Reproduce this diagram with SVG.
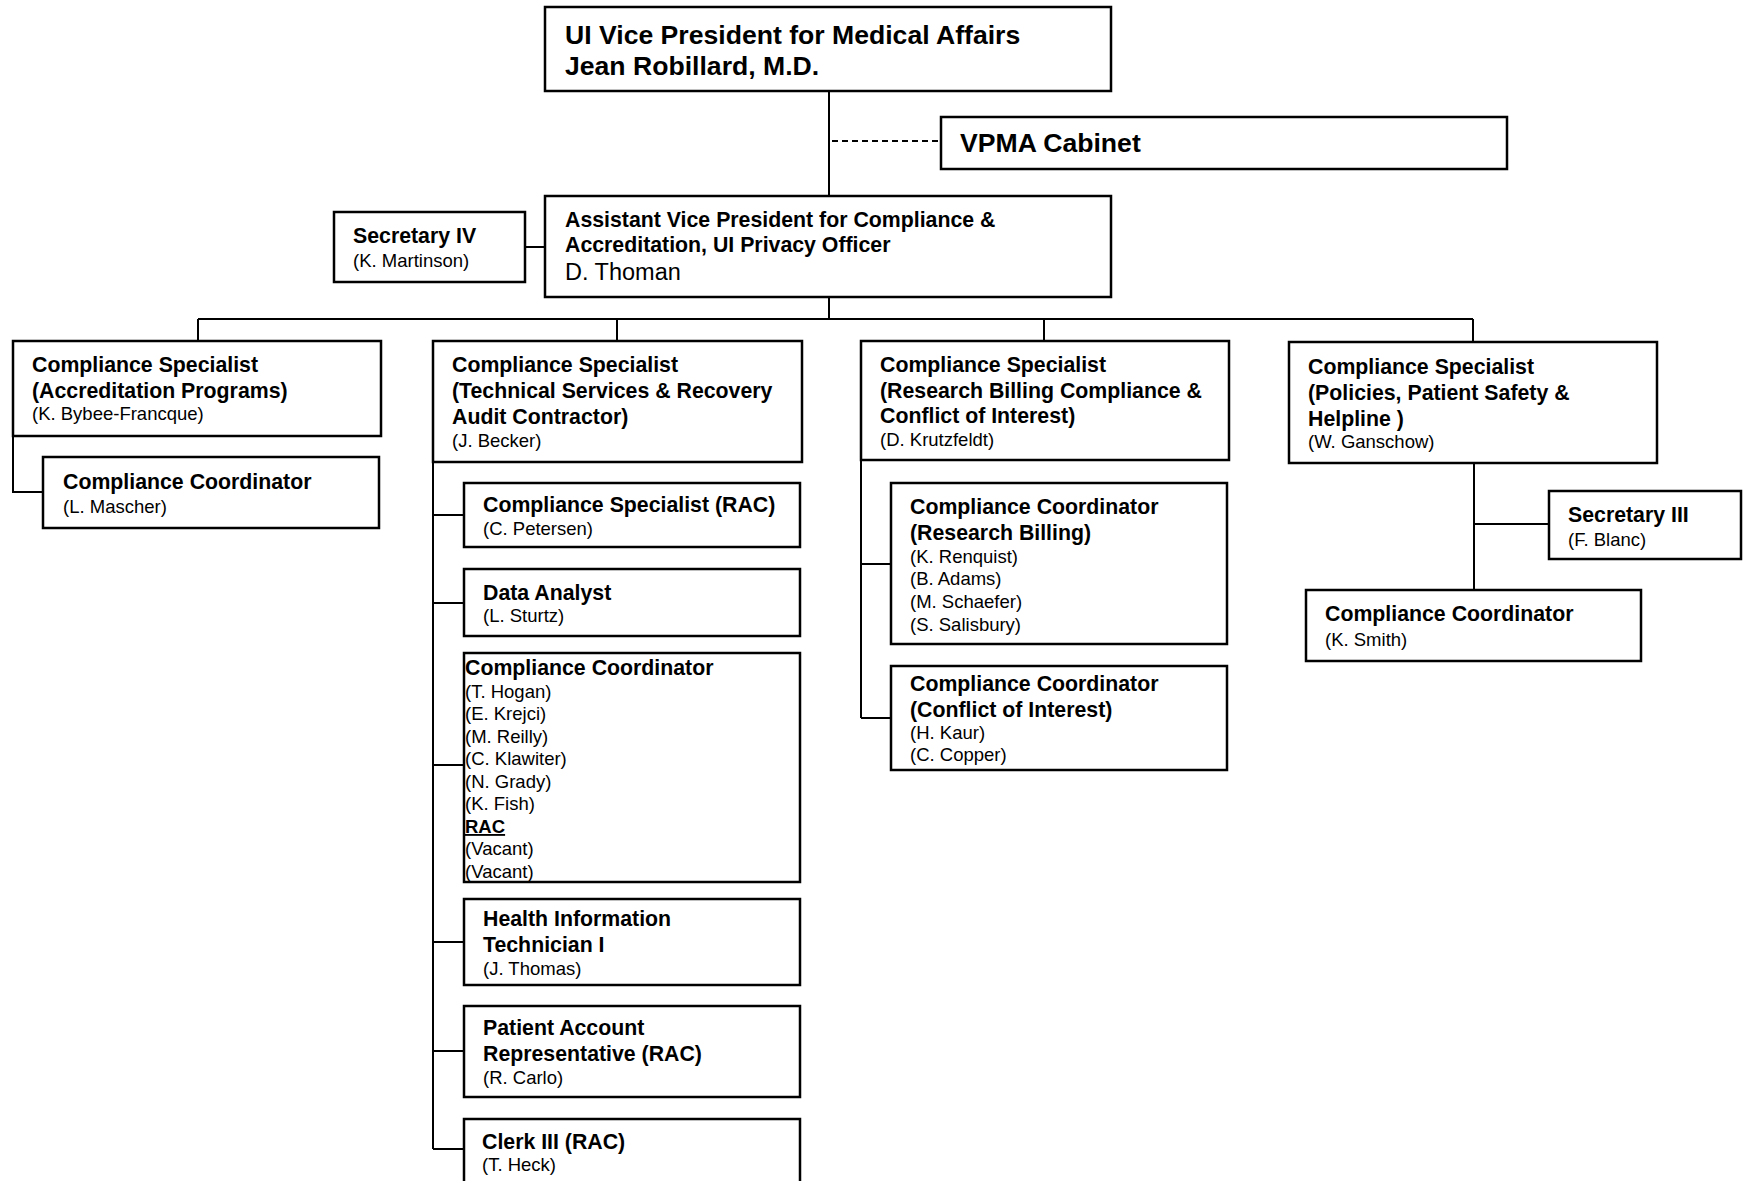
<svg xmlns="http://www.w3.org/2000/svg" width="1744" height="1181" viewBox="0 0 1744 1181">
<style>
text{font-family:"Liberation Sans",Arial,sans-serif;fill:#000}
.box{fill:#fff;stroke:#000;stroke-width:2.5}
.t{font-weight:bold;font-size:21.3px}
.n{font-size:18.5px}
.big{font-weight:bold;font-size:26.6px}
.ln{stroke:#000;stroke-width:2;fill:none}
</style>
<rect width="1744" height="1181" fill="#fff"/>
<g id="connectors">
<line class="ln" x1="829" y1="91" x2="829" y2="196"/>
<line class="ln" x1="832" y1="141" x2="940" y2="141" stroke-dasharray="6,4"/>
<line class="ln" x1="525" y1="247" x2="545" y2="247"/>
<line class="ln" x1="829" y1="297" x2="829" y2="319"/>
<line class="ln" x1="198" y1="319" x2="1473" y2="319"/>
<line class="ln" x1="198" y1="319" x2="198" y2="340"/>
<line class="ln" x1="617" y1="319" x2="617" y2="340"/>
<line class="ln" x1="1044" y1="319" x2="1044" y2="340"/>
<line class="ln" x1="1473" y1="319" x2="1473" y2="341"/>
<polyline class="ln" points="13,435 13,492 43,492"/>
<line class="ln" x1="433" y1="462" x2="433" y2="1149"/>
<line class="ln" x1="433" y1="515" x2="464" y2="515"/>
<line class="ln" x1="433" y1="603" x2="464" y2="603"/>
<line class="ln" x1="433" y1="765" x2="464" y2="765"/>
<line class="ln" x1="433" y1="942" x2="464" y2="942"/>
<line class="ln" x1="433" y1="1051" x2="464" y2="1051"/>
<line class="ln" x1="433" y1="1149" x2="464" y2="1149"/>
<line class="ln" x1="861" y1="460" x2="861" y2="718"/>
<line class="ln" x1="861" y1="564" x2="891" y2="564"/>
<line class="ln" x1="861" y1="718" x2="891" y2="718"/>
<line class="ln" x1="1474" y1="463" x2="1474" y2="589"/>
<line class="ln" x1="1474" y1="524" x2="1549" y2="524"/>
</g>
<g id="vpma">
<rect class="box" x="545" y="7" width="566" height="84"/>
<text class="big" x="565" y="44">UI Vice President for Medical Affairs</text>
<text class="big" x="565" y="75">Jean Robillard, M.D.</text>
</g>
<g id="cabinet">
<rect class="box" x="941" y="117" width="566" height="52"/>
<text class="big" x="960" y="152">VPMA Cabinet</text>
</g>
<g id="avp">
<rect class="box" x="545" y="196" width="566" height="101"/>
<text class="t" x="565" y="227">Assistant Vice President for Compliance &amp;</text>
<text class="t" x="565" y="252">Accreditation, UI Privacy Officer</text>
<text x="565" y="280" font-size="23.5px">D. Thoman</text>
</g>
<g id="sec4">
<rect class="box" x="334" y="212" width="191" height="70"/>
<text class="t" x="353" y="243">Secretary IV</text>
<text class="n" x="353" y="267">(K. Martinson)</text>
</g>
<g id="cs-accred">
<rect class="box" x="13" y="341" width="368" height="95"/>
<text class="t" x="32" y="372">Compliance Specialist</text>
<text class="t" x="32" y="398">(Accreditation Programs)</text>
<text class="n" x="32" y="420">(K. Bybee-Francque)</text>
</g>
<g id="cc-mascher">
<rect class="box" x="43" y="457" width="336" height="71"/>
<text class="t" x="63" y="489">Compliance Coordinator</text>
<text class="n" x="63" y="513">(L. Mascher)</text>
</g>
<g id="cs-tech">
<rect class="box" x="433" y="341" width="369" height="121"/>
<text class="t" x="452" y="372">Compliance Specialist</text>
<text class="t" x="452" y="398">(Technical Services &amp; Recovery</text>
<text class="t" x="452" y="424">Audit Contractor)</text>
<text class="n" x="452" y="447">(J. Becker)</text>
</g>
<g id="cs-rac">
<rect class="box" x="464" y="483" width="336" height="64"/>
<text class="t" x="483" y="512">Compliance Specialist (RAC)</text>
<text class="n" x="483" y="535">(C. Petersen)</text>
</g>
<g id="data-analyst">
<rect class="box" x="464" y="569" width="336" height="67"/>
<text class="t" x="483" y="600">Data Analyst</text>
<text class="n" x="483" y="622">(L. Sturtz)</text>
</g>
<g id="cc-tech">
<rect class="box" x="464" y="653" width="336" height="229"/>
<text class="t" x="465" y="675">Compliance Coordinator</text>
<text class="n" x="465" y="698">(T. Hogan)</text>
<text class="n" x="465" y="720">(E. Krejci)</text>
<text class="n" x="465" y="743">(M. Reilly)</text>
<text class="n" x="465" y="765">(C. Klawiter)</text>
<text class="n" x="465" y="788">(N. Grady)</text>
<text class="n" x="465" y="810">(K. Fish)</text>
<text class="n" x="465" y="833" font-weight="bold" text-decoration="underline">RAC</text>
<text class="n" x="465" y="855">(Vacant)</text>
<text class="n" x="465" y="878">(Vacant)</text>
</g>
<g id="hit">
<rect class="box" x="464" y="899" width="336" height="86"/>
<text class="t" x="483" y="926">Health Information</text>
<text class="t" x="483" y="952">Technician I</text>
<text class="n" x="483" y="975">(J. Thomas)</text>
</g>
<g id="par">
<rect class="box" x="464" y="1006" width="336" height="91"/>
<text class="t" x="483" y="1035">Patient Account</text>
<text class="t" x="483" y="1061">Representative (RAC)</text>
<text class="n" x="483" y="1084">(R. Carlo)</text>
</g>
<g id="clerk">
<rect class="box" x="464" y="1119" width="336" height="80"/>
<text class="t" x="482" y="1149">Clerk III (RAC)</text>
<text class="n" x="482" y="1171">(T. Heck)</text>
</g>
<g id="cs-research">
<rect class="box" x="861" y="341" width="368" height="119"/>
<text class="t" x="880" y="372">Compliance Specialist</text>
<text class="t" x="880" y="398">(Research Billing Compliance &amp;</text>
<text class="t" x="880" y="423">Conflict of Interest)</text>
<text class="n" x="880" y="446">(D. Krutzfeldt)</text>
</g>
<g id="cc-research">
<rect class="box" x="891" y="483" width="336" height="161"/>
<text class="t" x="910" y="514">Compliance Coordinator</text>
<text class="t" x="910" y="540">(Research Billing)</text>
<text class="n" x="910" y="563">(K. Renquist)</text>
<text class="n" x="910" y="585">(B. Adams)</text>
<text class="n" x="910" y="608">(M. Schaefer)</text>
<text class="n" x="910" y="631">(S. Salisbury)</text>
</g>
<g id="cc-coi">
<rect class="box" x="891" y="666" width="336" height="104"/>
<text class="t" x="910" y="691">Compliance Coordinator</text>
<text class="t" x="910" y="717">(Conflict of Interest)</text>
<text class="n" x="910" y="739">(H. Kaur)</text>
<text class="n" x="910" y="761">(C. Copper)</text>
</g>
<g id="cs-policies">
<rect class="box" x="1289" y="342" width="368" height="121"/>
<text class="t" x="1308" y="374">Compliance Specialist</text>
<text class="t" x="1308" y="400">(Policies, Patient Safety &amp;</text>
<text class="t" x="1308" y="426">Helpline )</text>
<text class="n" x="1308" y="448">(W. Ganschow)</text>
</g>
<g id="sec3">
<rect class="box" x="1549" y="491" width="192" height="68"/>
<text class="t" x="1568" y="522">Secretary III</text>
<text class="n" x="1568" y="546">(F. Blanc)</text>
</g>
<g id="cc-smith">
<rect class="box" x="1306" y="590" width="335" height="71"/>
<text class="t" x="1325" y="621">Compliance Coordinator</text>
<text class="n" x="1325" y="646">(K. Smith)</text>
</g>
</svg>
